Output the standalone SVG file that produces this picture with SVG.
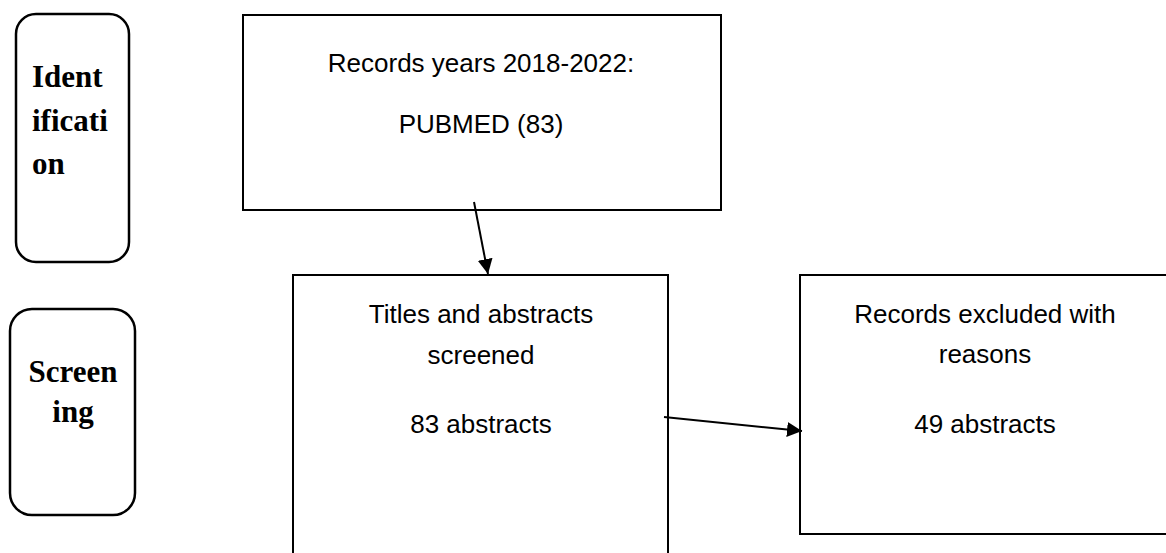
<svg xmlns="http://www.w3.org/2000/svg" width="1166" height="553" viewBox="0 0 1166 553">
  <style>
    .stage { fill: #ffffff; stroke: #000000; stroke-width: 2.5; }
    .box { fill: #ffffff; stroke: #000000; stroke-width: 2; }
    .stage-label { font-family: "Liberation Serif", "Times New Roman", serif; font-weight: bold; font-size: 31px; fill: #000000; }
    .label { font-family: "Liberation Sans", Arial, sans-serif; font-size: 26px; fill: #000000; text-anchor: middle; }
    .link { stroke: #000000; stroke-width: 2; fill: none; marker-end: url(#arrow); }
  </style>
  <defs>
    <marker id="arrow" viewBox="0 0 10 10" refX="10" refY="5" markerWidth="15" markerHeight="15" markerUnits="userSpaceOnUse" orient="auto">
      <path d="M0,0 L10,5 L0,10 z" fill="#000000"/>
    </marker>
  </defs>
  <rect width="1166" height="553" fill="#ffffff"/>

  <!-- stage labels on the left -->
  <g id="stage-identification">
    <rect class="stage" x="16" y="14" width="113" height="248" rx="20" ry="20"/>
    <text class="stage-label" x="32" y="87">Ident</text>
    <text class="stage-label" x="32" y="131">ificati</text>
    <text class="stage-label" x="32" y="174">on</text>
  </g>
  <g id="stage-screening">
    <rect class="stage" x="10" y="309" width="125" height="206" rx="22" ry="22"/>
    <text class="stage-label" x="73" y="382" text-anchor="middle" font-size="30">Screen</text>
    <text class="stage-label" x="73" y="422" text-anchor="middle" font-size="30">ing</text>
  </g>

  <!-- flow boxes -->
  <g id="records">
    <rect class="box" x="243" y="15" width="478" height="195"/>
    <text class="label" x="481" y="72">Records years 2018-2022:</text>
    <text class="label" x="481" y="133">PUBMED (83)</text>
  </g>
  <g id="screened">
    <rect class="box" x="293" y="275" width="375" height="290"/>
    <text class="label" x="481" y="323">Titles and abstracts</text>
    <text class="label" x="481" y="364">screened</text>
    <text class="label" x="481" y="433">83 abstracts</text>
  </g>
  <g id="excluded">
    <rect class="box" x="800" y="275" width="380" height="259"/>
    <text class="label" x="985" y="323">Records excluded with</text>
    <text class="label" x="985" y="363">reasons</text>
    <text class="label" x="985" y="433">49 abstracts</text>
  </g>

  <!-- connectors -->
  <g id="connectors">
    <line class="link" x1="474" y1="202" x2="488" y2="274"/>
    <line class="link" x1="664" y1="417" x2="802" y2="431"/>
  </g>
</svg>
